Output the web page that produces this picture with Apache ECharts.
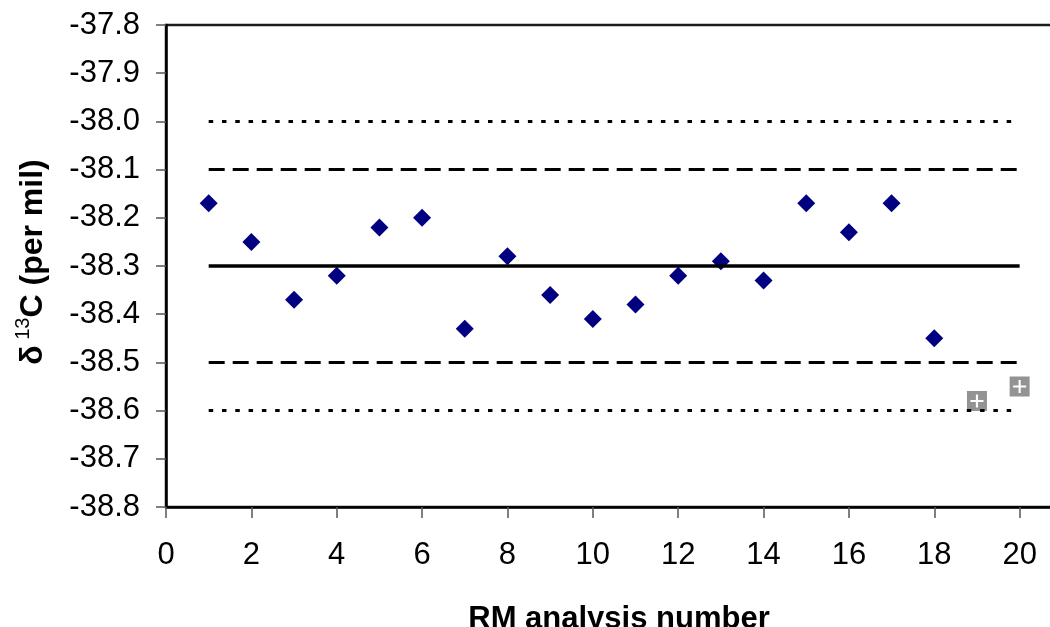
<!DOCTYPE html>
<html>
<head>
<meta charset="utf-8">
<script src="https://cdn.jsdelivr.net/npm/echarts@6/dist/echarts.min.js"></script>
<style>
html,body{margin:0;padding:0;background:#fff;overflow:hidden;width:1050px;height:627px;}
#chart{width:1110px;height:627px;}
</style>
</head>
<body>
<div id="chart"></div>
<script>
// RM analysis numbers and measured δ13C values
var runs = [1,2,3,4,5,6,7,8,9,10,11,12,13,14,15,16,17,18];
var d13C = [-38.17,-38.25,-38.37,-38.32,-38.22,-38.20,-38.43,-38.28,-38.36,-38.41,-38.38,-38.32,-38.29,-38.33,-38.17,-38.23,-38.17,-38.45];
// Flagged (outlier) analyses
var flaggedRuns = [19,20];
var flaggedD13C = [-38.58,-38.55];
// Reference lines (mean, ±0.2 and ±0.3)
var lineStart = 1, lineEnd = 20;
var meanValue = -38.3;
var dashedLevels = [-38.1,-38.5];
var dottedLevels = [-38.0,-38.6];
// Axis settings
var xMin = 0, xMax = 22, xStep = 2;
var yMin = -38.8, yMax = -37.8, yStep = 0.1;

function pairs(xs, ys){ return xs.map(function(x,i){ return [x, ys[i]]; }); }
function hline(v){ return [[lineStart, v],[lineEnd, v]]; }

var FONT = '"Liberation Sans", Arial, sans-serif';
var series = [];
dottedLevels.forEach(function(v){
  series.push({type:'line', data:hline(v), symbol:'none', silent:true,
    lineStyle:{color:'#000', width:3, type:[4.5,8.8], cap:'butt'}});
});
dashedLevels.forEach(function(v){
  series.push({type:'line', data:hline(v), symbol:'none', silent:true,
    lineStyle:{color:'#000', width:3, type:[16,8], cap:'butt'}});
});
series.push({type:'line', data:hline(meanValue), symbol:'none', silent:true,
  lineStyle:{color:'#000', width:3.5}});
series.push({type:'scatter', data:pairs(runs, d13C), symbol:'diamond', symbolSize:18,
  itemStyle:{color:'#000080', opacity:1}});
series.push({type:'scatter', data:pairs(flaggedRuns, flaggedD13C), symbol:'rect', symbolSize:20,
  itemStyle:{color:'#939393', opacity:1}});
series.push({type:'scatter', data:pairs(flaggedRuns, flaggedD13C),
  symbol:'path://M5,0 L7,0 L7,5 L12,5 L12,7 L7,7 L7,12 L5,12 L5,7 L0,7 L0,5 L5,5 Z', symbolSize:13,
  itemStyle:{color:'#ffffff', opacity:1}});

var chart = echarts.init(document.getElementById('chart'), null, {renderer:'canvas', width:1110, height:627});
chart.setOption({
  animation:false,
  backgroundColor:'#fff',
  grid:{left:166, top:25, bottom:120, right:5, outerBoundsMode:'none', show:true, borderColor:'#1a1a1a', borderWidth:2.5, containLabel:false},
  xAxis:{type:'value', min:xMin, max:xMax, interval:xStep,
    axisLine:{show:true, onZero:false, lineStyle:{color:'#000', width:2.5}},
    axisTick:{show:true, inside:false, length:11, lineStyle:{color:'#555', width:1.5}},
    axisLabel:{color:'#000', fontFamily:FONT, fontSize:31, margin:33},
    splitLine:{show:false}},
  yAxis:{type:'value', min:yMin, max:yMax, interval:yStep,
    axisLine:{show:true, onZero:false, lineStyle:{color:'#000', width:2.5}},
    axisTick:{show:true, inside:false, length:10, lineStyle:{color:'#555', width:1.5}},
    axisLabel:{color:'#000', fontFamily:FONT, fontSize:31, margin:26,
      formatter:function(v){ return v.toFixed(1); }},
    splitLine:{show:false}},
  graphic:[
    {type:'text', x:619, y:604,
      style:{text:'RM analysis number', font:'bold 31px '+FONT, fill:'#000', align:'center', verticalAlign:'top'}},
    {type:'text', rotation:Math.PI/2, x:31, y:262,
      style:{text:'{d|δ}{s| 13}{c|C (per mil)}', fill:'#000', verticalAlign:'middle', align:'center',
        rich:{
          d:{font:'bold 32px '+FONT, fill:'#000', verticalAlign:'bottom', lineHeight:36},
          s:{font:'20px '+FONT, fill:'#000', verticalAlign:'top', lineHeight:36},
          c:{font:'bold 32px '+FONT, fill:'#000', verticalAlign:'bottom', lineHeight:36}
        }}}
  ],
  series:series
});
</script>
</body>
</html>
